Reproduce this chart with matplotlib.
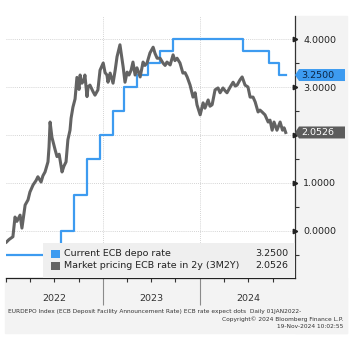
import numpy as np
import matplotlib

matplotlib.use("Agg")
import matplotlib.pyplot as plt
import matplotlib.dates as mdates
from matplotlib.patches import Rectangle, Polygon
from matplotlib.ticker import MultipleLocator, NullFormatter, FixedLocator

# ECB deposit facility rate (effective dates)
depo_dates = ["2022-01-01", "2022-07-27", "2022-09-14", "2022-11-02", "2022-12-21",
              "2023-02-08", "2023-03-22", "2023-05-10", "2023-06-21", "2023-08-02",
              "2023-09-20", "2024-06-12", "2024-09-18", "2024-10-23", "2024-11-19"]
depo_rate = [-0.50, 0.00, 0.75, 1.50, 2.00,
             2.50, 3.00, 3.25, 3.50, 3.75,
             4.00, 3.75, 3.50, 3.25, 3.25]

# market pricing of the ECB rate in 2y (3M2Y)
mkt_dates = [
    "2022-01-03", "2022-01-12", "2022-01-27", "2022-02-04", "2022-02-11", "2022-02-23",
    "2022-03-02", "2022-03-14", "2022-03-25", "2022-04-01", "2022-04-13", "2022-04-24",
    "2022-05-01", "2022-05-13", "2022-05-20", "2022-05-28", "2022-06-08", "2022-06-12",
    "2022-06-16", "2022-06-23", "2022-07-05", "2022-07-12", "2022-07-20", "2022-07-31",
    "2022-08-07", "2022-08-15", "2022-08-22", "2022-08-30", "2022-09-03", "2022-09-10",
    "2022-09-18", "2022-09-25", "2022-10-03", "2022-10-07", "2022-10-14", "2022-10-22",
    "2022-10-25", "2022-11-02", "2022-11-06", "2022-11-13", "2022-11-25", "2022-12-02",
    "2022-12-13", "2022-12-21", "2023-01-02", "2023-01-09", "2023-01-16", "2023-01-20",
    "2023-01-28", "2023-02-08", "2023-02-16", "2023-02-23", "2023-03-06", "2023-03-18",
    "2023-03-25", "2023-04-02", "2023-04-09", "2023-04-17", "2023-04-24", "2023-05-02",
    "2023-05-09", "2023-05-21", "2023-06-01", "2023-06-08", "2023-06-16", "2023-06-27",
    "2023-07-09", "2023-07-16", "2023-07-24", "2023-08-04", "2023-08-15", "2023-08-23",
    "2023-08-30", "2023-09-11", "2023-09-22", "2023-09-29", "2023-10-07", "2023-10-18",
    "2023-10-29", "2023-11-06", "2023-11-14", "2023-11-25", "2023-12-06", "2023-12-14",
    "2023-12-21", "2024-01-02", "2024-01-13", "2024-01-20", "2024-02-01", "2024-02-08",
    "2024-02-16", "2024-02-27", "2024-03-09", "2024-03-17", "2024-03-28", "2024-04-05",
    "2024-04-12", "2024-04-24", "2024-05-05", "2024-05-13", "2024-05-20", "2024-05-31",
    "2024-06-08", "2024-06-19", "2024-06-30", "2024-07-08", "2024-07-19", "2024-07-27",
    "2024-08-07", "2024-08-14", "2024-08-22", "2024-09-02", "2024-09-14", "2024-09-21",
    "2024-09-29", "2024-10-06", "2024-10-17", "2024-10-29", "2024-11-07", "2024-11-13",
    "2024-11-19",
]
mkt_rate = [
    -0.23, -0.18, -0.12, 0.29, 0.20, 0.33,
    0.06, 0.54, 0.65, 0.81, 0.96, 1.05,
    1.13, 1.02, 1.15, 1.23, 1.44, 1.75,
    2.27, 1.95, 1.69, 1.55, 1.60, 1.23,
    1.35, 1.44, 1.90, 2.10, 2.35, 2.58,
    2.75, 3.20, 2.95, 3.25, 3.08, 3.15,
    3.25, 2.80, 3.00, 3.04, 2.90, 2.83,
    2.94, 3.35, 3.50, 3.30, 3.25, 3.10,
    3.29, 3.08, 3.35, 3.63, 3.88, 3.42,
    3.10, 3.31, 3.25, 3.35, 3.52, 3.25,
    3.40, 3.21, 3.52, 3.45, 3.50, 3.71,
    3.83, 3.70, 3.60, 3.60, 3.50, 3.45,
    3.52, 3.46, 3.67, 3.55, 3.60, 3.50,
    3.29, 3.30, 3.21, 3.04, 2.79, 2.88,
    2.63, 2.42, 2.67, 2.56, 2.73, 2.60,
    2.63, 2.94, 2.98, 2.88, 2.98, 2.92,
    2.88, 3.00, 3.10, 3.02, 3.04, 3.15,
    3.21, 3.04, 3.00, 2.79, 2.79, 2.69,
    2.48, 2.52, 2.48, 2.42, 2.27, 2.31,
    2.10, 2.27, 2.10, 2.27, 2.10, 2.15,
    2.0526,
]

depo_label = "Current ECB depo rate"
mkt_label = "Market pricing ECB rate in 2y (3M2Y)"
years = [2022, 2023, 2024]
footer = [
    "EURDEPO Index (ECB Deposit Facility Announcement Rate) ECB rate expect dots  Daily 01JAN2022-",
    "Copyright\u00a9 2024 Bloomberg Finance L.P.",
    "19-Nov-2024 10:02:55",
]

BLUE = "#3d9bf0"
GREY = "#636363"
PANEL = "#f3f3f3"

W, H = 355, 342
fig = plt.figure(figsize=(W / 100, H / 100), dpi=100)

# light grey frame round the plot (right strip and bottom strip)
fig.patches.append(Rectangle((295 / W, 1 - 333 / H), 52 / W, 317 / H,
                             transform=fig.transFigure, color=PANEL, zorder=-1))
fig.patches.append(Rectangle((5 / W, 1 - 333 / H), 342 / W, 55 / H,
                             transform=fig.transFigure, color=PANEL, zorder=-1))

ax = fig.add_axes([6 / W, 1 - 278 / H, 289 / W, 262 / H])
ax.set_facecolor("white")

d_depo = np.array(depo_dates, dtype="datetime64[D]")
d_mkt = np.array(mkt_dates, dtype="datetime64[D]")

ax.plot(d_depo, depo_rate, drawstyle="steps-post", color=BLUE, lw=1.6, zorder=3)
ax.plot(d_mkt, mkt_rate, color=GREY, lw=2.2, zorder=4, solid_joinstyle="round")

ax.set_xlim(np.datetime64("2022-01-01"), np.datetime64("2024-12-24"))
ax.set_ylim(-0.98, 4.48)

for side in ["left", "top"]:
    ax.spines[side].set_visible(False)
ax.spines["right"].set_color("#333333")
ax.spines["bottom"].set_color("#222222")
ax.spines["right"].set_linewidth(0.9)
ax.spines["bottom"].set_linewidth(0.9)

# x axis: quarter ticks, long year separators between the years
year_starts = [mdates.date2num(np.datetime64(f"{yr}-01-01")) for yr in years[1:]]
ax.xaxis.set_major_locator(FixedLocator(year_starts))
ax.xaxis.set_minor_locator(mdates.MonthLocator(bymonth=[1, 4, 7, 10]))
ax.xaxis.set_major_formatter(NullFormatter())
ax.tick_params(axis="x", which="major", length=19.5, width=0.8, color="#8a8a8a")
ax.tick_params(axis="x", which="minor", length=3, width=0.8, color="#333333")
for yr in years:
    ax.text(np.datetime64(f"{yr}-07-01"), -0.062, str(yr), transform=ax.get_xaxis_transform(),
            ha="center", va="top", fontsize=6.8, color="#333333")

tags = [(depo_rate[-1], BLUE, "#0b2545"), (mkt_rate[-1], "#5c5c5c", "white")]


def fmt_right(v, pos):
    # the value tags sit over the nearest tick label
    if any(abs(v - t[0]) < 0.2 for t in tags):
        return ""
    return f"{v:.4f}"


# y axis on the right
ax.yaxis.tick_right()
ax.yaxis.set_major_locator(MultipleLocator(1))
ax.yaxis.set_minor_locator(MultipleLocator(0.5))
ax.yaxis.set_major_formatter(fmt_right)
ax.tick_params(axis="y", which="major", length=0, pad=6, labelsize=6.8, labelcolor="#222222")
ax.tick_params(axis="y", which="minor", length=3, width=0.8, color="#333333")
yt = [v for v in ax.get_yticks() if -0.98 <= v <= 4.48]
ax.plot([1.0] * len(yt), yt, transform=ax.get_yaxis_transform(), ls="none",
        marker=">", ms=3.2, color="#222222", clip_on=False, zorder=6)

ax.grid(True, which="major", color="#c6c6c6", lw=0.6, ls=(0, (1, 1.5)))
ax.set_axisbelow(True)

# value tags on the right axis
ytr = ax.get_yaxis_transform()
dy = 6 / 262 * (4.48 + 0.98)
tip = 4 / 289
wid = 50 / 289
for val, face, tcol in tags:
    poly = Polygon([(1.0, val), (1.0 + tip, val + dy), (1.0 + wid, val + dy),
                    (1.0 + wid, val - dy), (1.0 + tip, val - dy)], closed=True,
                   transform=ytr, facecolor=face, edgecolor="none", clip_on=False, zorder=7)
    ax.add_patch(poly)
    ax.text(1.0 + tip + 2 / 289, val, f"{val:.4f}", transform=ytr, ha="left", va="center",
            fontsize=6.8, color=tcol, zorder=8, clip_on=False)

# legend box inside the plot
lx0 = (43 - 6) / 289
ax.add_patch(Rectangle((lx0, 0), 1 - lx0, 35 / 262, transform=ax.transAxes,
                       facecolor="#efefef", edgecolor="none", zorder=5))
rows = [(depo_label, depo_rate[-1], BLUE, (278 - 254) / 262),
        (mkt_label, mkt_rate[-1], GREY, (278 - 266) / 262)]
for label, val, col, yc in rows:
    ax.add_patch(Rectangle(((51 - 6) / 289, yc - 4 / 262), 9 / 289, 8 / 262,
                           transform=ax.transAxes, facecolor=col, edgecolor="none", zorder=6))
    ax.text((64 - 6) / 289, yc, label, transform=ax.transAxes, ha="left", va="center",
            fontsize=6.8, color="#222222", zorder=6)
    ax.text((288 - 6) / 289, yc, f"{val:.4f}", transform=ax.transAxes, ha="right",
            va="center", fontsize=6.8, color="#222222", zorder=6)

# footer
fig.text(8 / W, 1 - 311 / H, footer[0], ha="left", va="center", fontsize=4.2, color="#333333")
fig.text(343 / W, 1 - 319 / H, footer[1], ha="right", va="center", fontsize=4.2, color="#333333")
fig.text(343 / W, 1 - 327 / H, footer[2], ha="right", va="center", fontsize=4.2, color="#333333")

fig.savefig("out.png", dpi=100)
